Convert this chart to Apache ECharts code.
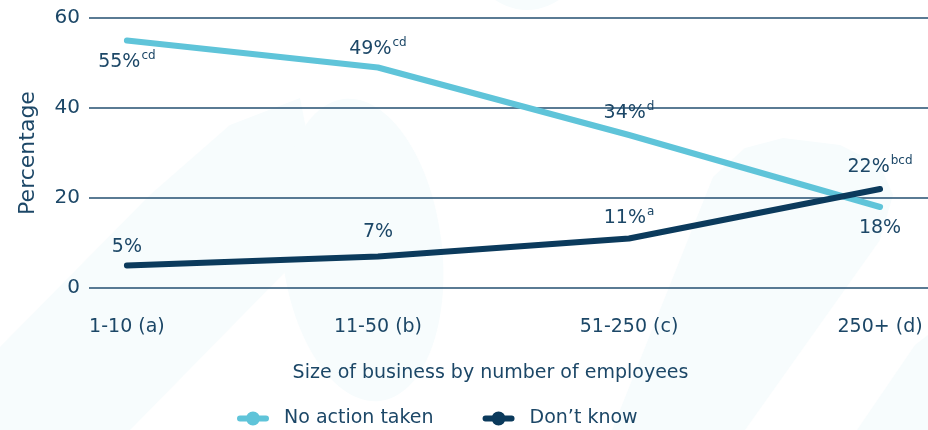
<!DOCTYPE html>
<html>
<head>
<meta charset="utf-8">
<script src="https://cdn.jsdelivr.net/npm/echarts@6/dist/echarts.min.js"></script>
<style>
  html, body { margin: 0; padding: 0; background: #ffffff; }
  #chart { width: 928px; height: 430px; }
</style>
</head>
<body>
<div id="chart"></div>
<script>
// Business size bands and the two response series (percent)
const categories = ['1-10 (a)', '11-50 (b)', '51-250 (c)', '250+ (d)'];
const noActionTaken = [55, 49, 34, 18];
const dontKnow = [5, 7, 11, 22];
// Significance letters shown after each value
const noActionSup = ['cd', 'cd', 'd', ''];
const dontKnowSup = ['', '', 'a', 'bcd'];
const yTicks = [0, 20, 40, 60];

const TEXT = '#1c4767';
const FONT = 'DejaVu Sans';
const LIGHT = '#5fc4d9';
const DARK = '#0b3a5c';

// legend glyph: rounded bar with a dot in the middle
const LEGEND_ICON = 'path://M3,4 L29,4 A3,3 0 0 1 29,10 L3,10 A3,3 0 0 1 3,4 Z M16,0 A7,7 0 1 1 15.99,0 Z';

const chart = echarts.init(document.getElementById('chart'), null, { renderer: 'canvas' });

const rich = {
  v: { fontSize: 19, color: TEXT, fontFamily: FONT, lineHeight: 22, verticalAlign: 'bottom' },
  s: { fontSize: 12, color: TEXT, fontFamily: FONT, lineHeight: 22, verticalAlign: 'top', padding: [0, 0, 8, 1] }
};

function labelFor(sups) {
  return function (p) {
    const sup = sups[p.dataIndex];
    return '{v|' + p.value[1] + '%}' + (sup ? '{s|' + sup + '}' : '');
  };
}

// label placement per point: [position, distance]
const noActionPlace = [['bottom', 9], ['top', 9], ['top', 12], ['bottom', 9]];
const dontKnowPlace = [['top', 9], ['top', 15], ['top', 11], ['top', 12]];

function pts(values, place) {
  return values.map((v, i) => ({
    value: [i, v],
    label: { position: place[i][0], distance: place[i][1] }
  }));
}

const wash = '#f7fcfd';

chart.setOption({
  animation: false,
  backgroundColor: '#ffffff',
  graphic: [
    { type: 'polygon', z: -10, silent: true, shape: { points: [[0, 347], [150, 195], [230, 125], [300, 98], [330, 250], [290, 267], [130, 430], [0, 430]] }, style: { fill: wash } },
    { type: 'ellipse', z: -10, silent: true, rotation: 0.12, originX: 362, originY: 250, shape: { cx: 362, cy: 250, rx: 80, ry: 152 }, style: { fill: wash } },
    { type: 'circle', z: -10, silent: true, shape: { cx: 527, cy: -45, r: 55 }, style: { fill: wash } },
    { type: 'polygon', z: -10, silent: true, shape: { points: [[612, 430], [713, 177], [745, 148], [783, 138], [840, 145], [880, 165], [893, 195], [880, 240], [745, 430]] }, style: { fill: wash } },
    { type: 'polygon', z: -10, silent: true, shape: { points: [[857, 430], [915, 345], [928, 335], [928, 430]] }, style: { fill: wash } }
  ],
  grid: { left: 89, right: 0, top: 18, bottom: 142, containLabel: false },
  legend: {
    top: 404,
    left: 232,
    itemWidth: 32,
    itemHeight: 14,
    itemGap: 49,
    textStyle: { fontSize: 19, color: TEXT, fontFamily: FONT, padding: [0, 0, 0, 10] },
    data: [
      { name: 'No action taken', icon: LEGEND_ICON },
      { name: 'Don\u2019t know', icon: LEGEND_ICON }
    ]
  },
  xAxis: {
    type: 'value',
    min: -0.151,
    max: 3.191,
    name: 'Size of business by number of employees',
    nameLocation: 'middle',
    nameGap: 76,
    nameTextStyle: { fontSize: 19, color: TEXT, fontFamily: FONT, padding: [0, 36, 0, 0] },
    axisLine: { show: false },
    axisTick: { show: false },
    splitLine: { show: false },
    axisLabel: {
      customValues: [0, 1, 2, 3],
      formatter: v => categories[Math.round(v)],
      fontSize: 19,
      color: TEXT,
      fontFamily: FONT,
      margin: 30
    }
  },
  yAxis: {
    type: 'value',
    min: 0,
    max: 60,
    interval: 20,
    name: 'Percentage',
    nameLocation: 'middle',
    nameGap: 50,
    nameTextStyle: { fontSize: 22, color: TEXT, fontFamily: FONT },
    axisLine: { show: false },
    axisTick: { show: false },
    axisLabel: {
      formatter: v => (yTicks.includes(v) ? String(v) : ''),
      fontSize: 20,
      color: TEXT,
      fontFamily: FONT,
      margin: 9
    },
    splitLine: { lineStyle: { color: '#234f70', width: 1.5 } }
  },
  series: [
    {
      name: 'No action taken',
      type: 'line',
      data: pts(noActionTaken, noActionPlace),
      symbol: 'circle',
      symbolSize: 0.1,
      showSymbol: true,
      color: LIGHT,
      itemStyle: { color: LIGHT },
      lineStyle: { width: 6, color: LIGHT, cap: 'round', join: 'round' },
      label: { show: true, formatter: labelFor(noActionSup), rich: rich },
      z: 3
    },
    {
      name: 'Don\u2019t know',
      type: 'line',
      data: pts(dontKnow, dontKnowPlace),
      symbol: 'circle',
      symbolSize: 0.1,
      showSymbol: true,
      color: DARK,
      itemStyle: { color: DARK },
      lineStyle: { width: 6, color: DARK, cap: 'round', join: 'round' },
      label: { show: true, formatter: labelFor(dontKnowSup), rich: rich },
      z: 4
    }
  ]
});
</script>
</body>
</html>
